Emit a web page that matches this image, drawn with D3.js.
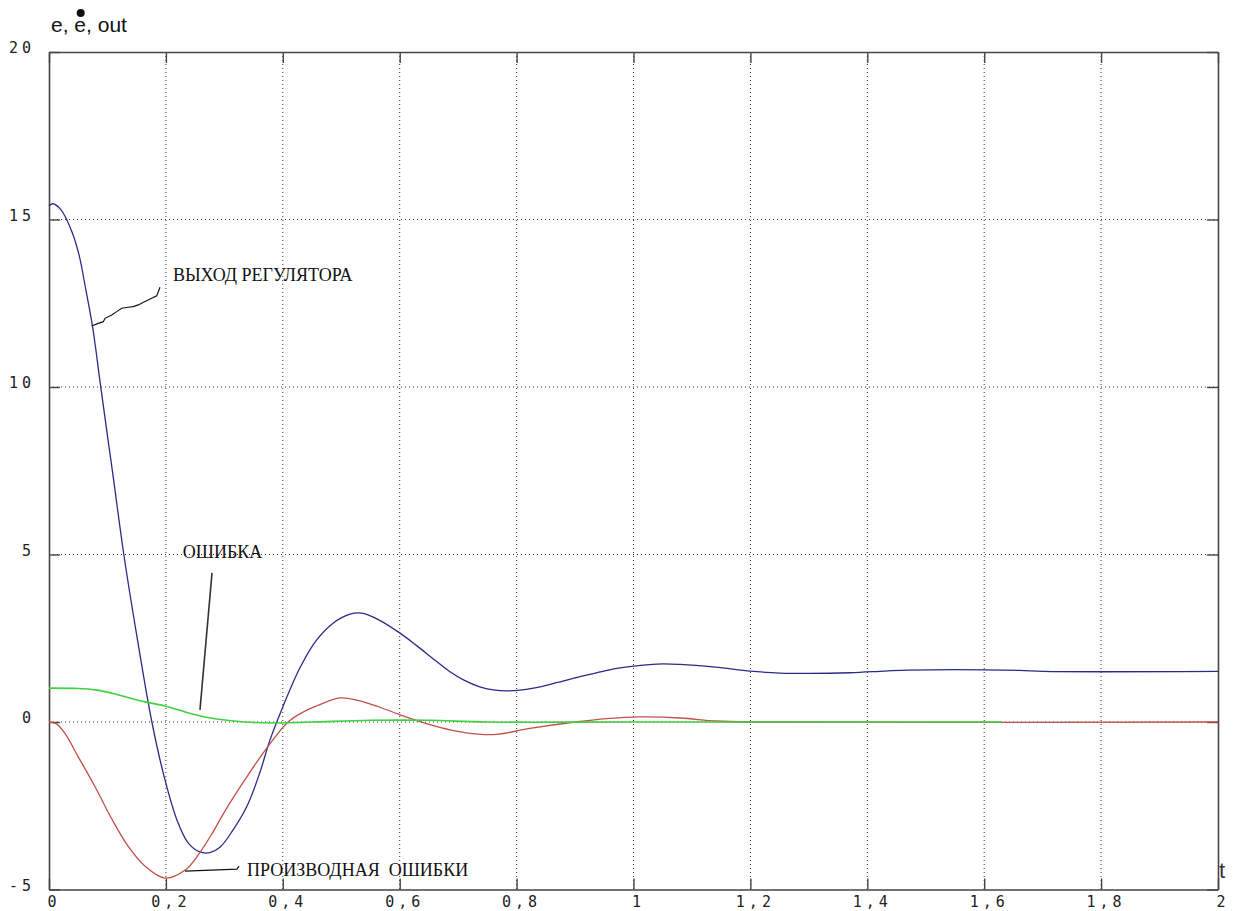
<!DOCTYPE html>
<html>
<head>
<meta charset="utf-8">
<script src="https://cdn.jsdelivr.net/npm/d3@7"></script>
<style>
  body { margin: 0; background: #fff; }
  svg { display: block; }
</style>
</head>
<body>
<svg id="chart" width="1235" height="911"></svg>
<script>
// ---- data ----
const xTicks = [0, 0.2, 0.4, 0.6, 0.8, 1, 1.2, 1.4, 1.6, 1.8, 2];
const xTickLabels = ["0", "0,2", "0,4", "0,6", "0,8", "1", "1,2", "1,4", "1,6", "1,8", "2"];
const yTicks = [-5, 0, 5, 10, 15, 20];
const yTickLabels = ["-5", "0", "5", "10", "15", "20"];

// controller output (blue)
const outT = [0, 0.006, 0.02, 0.04, 0.052, 0.062, 0.075, 0.087, 0.1, 0.11, 0.128, 0.15, 0.176, 0.198, 0.219, 0.238, 0.258, 0.275, 0.293, 0.315, 0.338, 0.36, 0.378, 0.4, 0.43, 0.458, 0.486, 0.515, 0.535, 0.561, 0.6, 0.629, 0.66, 0.686, 0.71, 0.737, 0.76, 0.783, 0.81, 0.84, 0.87, 0.91, 0.95, 0.98, 1.04, 1.08, 1.14, 1.2, 1.25, 1.3, 1.37, 1.43, 1.47, 1.66, 1.7, 2.0];
const outV = [15.4, 15.47, 15.3, 14.6, 13.9, 13.0, 11.75, 10.2, 8.55, 7.3, 5.0, 2.6, 0.0, -1.7, -2.93, -3.61, -3.88, -3.9, -3.73, -3.22, -2.54, -1.55, -0.54, 0.45, 1.64, 2.45, 2.95, 3.22, 3.25, 3.08, 2.66, 2.28, 1.85, 1.5, 1.25, 1.05, 0.96, 0.93, 0.96, 1.05, 1.18, 1.36, 1.52, 1.62, 1.73, 1.72, 1.64, 1.52, 1.46, 1.45, 1.47, 1.52, 1.55, 1.54, 1.51, 1.51];

// derivative of the error (red)
const derT = [0, 0.012, 0.027, 0.05, 0.079, 0.107, 0.135, 0.164, 0.198, 0.233, 0.258, 0.28, 0.301, 0.335, 0.37, 0.409, 0.435, 0.458, 0.498, 0.53, 0.566, 0.6, 0.64, 0.69, 0.74, 0.77, 0.82, 0.9, 0.96, 1.01, 1.08, 1.14, 1.2, 2.0];
const derV = [0, -0.05, -0.33, -1.04, -1.94, -2.88, -3.7, -4.3, -4.66, -4.42, -3.9, -3.3, -2.66, -1.73, -0.84, 0.0, 0.3, 0.48, 0.72, 0.64, 0.44, 0.22, -0.02, -0.25, -0.37, -0.36, -0.2, 0.0, 0.11, 0.15, 0.12, 0.03, 0.0, 0.0];

// error (green)
const errT = [0, 0.05, 0.079, 0.108, 0.135, 0.164, 0.198, 0.233, 0.267, 0.29, 0.335, 0.38, 0.45, 0.55, 0.65, 0.75, 1.0, 1.63];
const errV = [1.01, 1.0, 0.96, 0.86, 0.73, 0.6, 0.48, 0.3, 0.15, 0.08, 0.0, -0.03, 0.0, 0.05, 0.05, 0.0, 0.0, 0.0];

// annotation leaders (data coordinates)
const outLeaderT = [0.0731, 0.0843, 0.0929, 0.0958, 0.1073, 0.1158, 0.1244, 0.1357, 0.1442, 0.1528, 0.1642, 0.1757, 0.1843, 0.1899];
const outLeaderV = [11.82, 11.90, 11.95, 12.05, 12.15, 12.25, 12.35, 12.38, 12.40, 12.45, 12.55, 12.65, 12.72, 12.98];
const errLeaderT = [0.2789, 0.2583];
const errLeaderV = [4.45, 0.36];
const derLeaderT = [0.2327, 0.3216, 0.3251];
const derLeaderV = [-4.45, -4.39, -4.30];

const annoTexts = ["ВЫХОД РЕГУЛЯТОРА", "ОШИБКА", "ПРОИЗВОДНАЯ  ОШИБКИ"];
const annoT = [0.212, 0.229, 0.3388];
const annoV = [13.15, 4.9, -4.6];

// ---- drawing ----
(function draw() {
  const svg = d3.select("#chart");
  const pL = 49, pR = 1218, pT = 52, pB = 889.5;

  const x = d3.scaleLinear().domain([0, 2]).range([pL, pR]);
  const y = d3.scaleLinear().domain([-5, 20]).range([pB, pT]);

  const gridColor = "#333";
  const axisColor = "#454545";

  // grid
  const grid = svg.append("g");
  grid.selectAll("line.vg").data(xTicks.slice(1, -1)).enter().append("line")
    .attr("x1", d => x(d)).attr("x2", d => x(d))
    .attr("y1", pT).attr("y2", pB)
    .attr("stroke", gridColor).attr("stroke-width", 1)
    .attr("stroke-dasharray", "1,3");
  grid.selectAll("line.hg").data(yTicks.slice(1, -1)).enter().append("line")
    .attr("x1", pL).attr("x2", pR)
    .attr("y1", d => y(d)).attr("y2", d => y(d))
    .attr("stroke", gridColor).attr("stroke-width", 1)
    .attr("stroke-dasharray", "1,3");

  // axes via d3 axis generators (ticks inside)
  const tickLen = 11;
  const axB = d3.axisBottom(x).tickValues(xTicks).tickSize(-tickLen).tickSizeOuter(0).tickFormat("");
  const axT = d3.axisTop(x).tickValues(xTicks).tickSize(-tickLen).tickSizeOuter(0).tickFormat("");
  const axL = d3.axisLeft(y).tickValues(yTicks).tickSize(-tickLen).tickSizeOuter(0).tickFormat("");
  const axR = d3.axisRight(y).tickValues(yTicks).tickSize(-tickLen).tickSizeOuter(0).tickFormat("");
  function styleAxis(g) {
    g.selectAll("path").attr("stroke", axisColor).attr("stroke-width", 1.6);
    g.selectAll("line").attr("stroke", axisColor).attr("stroke-width", 1.4);
  }
  svg.append("g").attr("transform", `translate(0,${pB})`).call(axB).call(styleAxis);
  svg.append("g").attr("transform", `translate(0,${pT})`).call(axT).call(styleAxis);
  svg.append("g").attr("transform", `translate(${pL},0)`).call(axL).call(styleAxis);
  svg.append("g").attr("transform", `translate(${pR},0)`).call(axR).call(styleAxis);

  // tick labels
  const ls = 4;
  svg.append("g").selectAll("text").data(xTicks).enter().append("text")
    .attr("x", d => x(d) + 3 + ls / 2)
    .attr("y", 907)
    .attr("text-anchor", "middle")
    .attr("font-family", "DejaVu Sans Mono, monospace")
    .attr("font-size", 15)
    .attr("letter-spacing", ls)
    .attr("fill", "#222")
    .text((d, i) => xTickLabels[i]);
  svg.append("g").selectAll("text").data(yTicks).enter().append("text")
    .attr("x", 31 + ls)
    .attr("y", d => y(d) + 1)
    .attr("text-anchor", "end")
    .attr("font-family", "DejaVu Sans Mono, monospace")
    .attr("font-size", 15)
    .attr("letter-spacing", ls)
    .attr("fill", "#222")
    .text((d, i) => yTickLabels[i]);

  // curves
  const line = d3.line().x(d => x(d[0])).y(d => y(d[1])).curve(d3.curveCatmullRom.alpha(0.5));
  const zip = (a, b) => a.map((v, i) => [v, b[i]]);

  svg.append("path").datum(zip(outT, outV)).attr("d", line)
    .attr("fill", "none").attr("stroke", "#2b2b86").attr("stroke-width", 1.3);
  svg.append("path").datum(zip(derT, derV)).attr("d", line)
    .attr("fill", "none").attr("stroke", "#c2504a").attr("stroke-width", 1.3);
  svg.append("path").datum(zip(errT, errV)).attr("d", line)
    .attr("fill", "none").attr("stroke", "#3fd13f").attr("stroke-width", 1.6);

  // leaders
  const lineStraight = d3.line().x(d => x(d[0])).y(d => y(d[1]));
  svg.append("path").datum(zip(outLeaderT, outLeaderV)).attr("d", lineStraight)
    .attr("fill", "none").attr("stroke", "#111").attr("stroke-width", 1.2);
  svg.append("path").datum(zip(errLeaderT, errLeaderV)).attr("d", lineStraight)
    .attr("fill", "none").attr("stroke", "#333").attr("stroke-width", 1.6);
  svg.append("path").datum(zip(derLeaderT, derLeaderV)).attr("d", lineStraight)
    .attr("fill", "none").attr("stroke", "#111").attr("stroke-width", 1.2);

  // annotation labels
  svg.append("g").selectAll("text").data(annoTexts).enter().append("text")
    .attr("x", (d, i) => x(annoT[i])).attr("y", (d, i) => y(annoV[i]))
    .attr("font-family", "Liberation Serif, Times New Roman, serif")
    .attr("font-size", 18)
    .attr("fill", "#111")
    .style("white-space", "pre")
    .text(d => d);

  // title: e, ė, out
  const title = svg.append("text")
    .attr("x", 51).attr("y", 32)
    .attr("font-family", "Liberation Sans, Arial, sans-serif")
    .attr("font-size", 21)
    .attr("fill", "#111")
    .text("e, e, out");
  const tn = title.node();
  const sp = tn.getStartPositionOfChar(3);
  const ew = tn.getSubStringLength(3, 1);
  svg.append("circle").attr("cx", sp.x + ew / 2 + 0.5).attr("cy", 13).attr("r", 4).attr("fill", "#111");

  // t label
  svg.append("text")
    .attr("x", 1219).attr("y", 878)
    .attr("font-family", "Liberation Sans, Arial, sans-serif")
    .attr("font-size", 22)
    .attr("fill", "#333")
    .text("t");
})();
</script>
</body>
</html>
